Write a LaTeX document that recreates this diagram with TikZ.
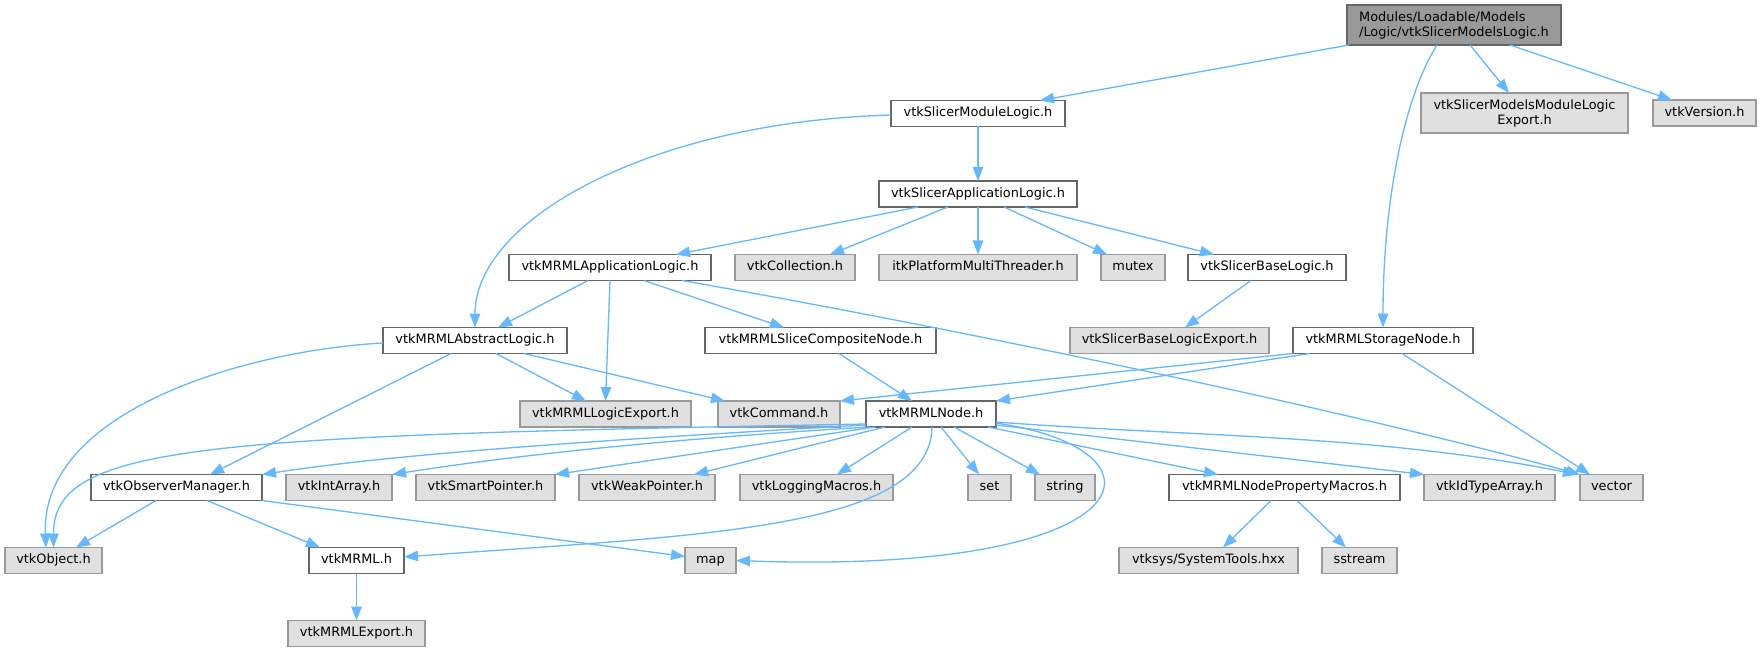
\documentclass[tikz,border=0pt]{standalone}
\usepackage{fontspec}
\setmainfont{DejaVu Sans}
\usetikzlibrary{arrows.meta}
\definecolor{edgec}{HTML}{63B8FF}
\definecolor{bdark}{HTML}{666666}
\definecolor{bgray}{HTML}{999999}
\definecolor{fgray}{HTML}{E0E0E0}
\begin{document}
\begin{tikzpicture}[x=1pt,y=-1pt,
  base/.style={draw, line width=1.2pt, inner sep=0pt, outer sep=0pt,
    font=\fontsize{12.9}{15}\selectfont, text=black},
  sl/.style={text height=9.5pt, text depth=3.1pt},
  wbox/.style={base, sl, fill=white, draw=bdark},
  gbox/.style={base, sl, fill=fgray, draw=bgray},
  topbox/.style={base, fill=bgray, draw=bdark, align=left},
  g2box/.style={base, fill=fgray, draw=bgray, align=center},
  sz/.style 2 args={minimum width=#1pt, minimum height=#2pt},
  edge/.style={draw=edgec, line width=1.3pt,
    -{Triangle[length=14pt,width=10.5pt,fill=edgec]}}
]
\fill[white] (0,0) rectangle (1761,652);
\useasboundingbox (0,0) rectangle (1761,652);

% row 0
\node[topbox, sz={214}{40}] (top) at (1454,25) {Modules/Loadable/Models\\/Logic/vtkSlicerModelsLogic.h};
% row 1
\node[g2box, sz={207}{40}] (export) at (1524.5,113) {vtkSlicerModelsModuleLogic\\Export.h};
\node[gbox, sz={103}{26}] (version) at (1704.5,113) {vtkVersion.h};
\node[wbox, sz={174}{26}] (moduleLogic) at (978,113.5) {vtkSlicerModuleLogic.h};
% row 2
\node[wbox, sz={198}{26}] (appLogic) at (978,194) {vtkSlicerApplicationLogic.h};
% row 3
\node[wbox, sz={202}{26}] (mrmlAppLogic) at (610,267.5) {vtkMRMLApplicationLogic.h};
\node[gbox, sz={120}{26}] (collection) at (795,267.5) {vtkCollection.h};
\node[gbox, sz={198}{26}] (itk) at (978,267.5) {itkPlatformMultiThreader.h};
\node[gbox, sz={64}{26}] (mutex) at (1133,267.5) {mutex};
\node[wbox, sz={158}{26}] (baseLogic) at (1267,267.5) {vtkSlicerBaseLogic.h};
% row 4
\node[wbox, sz={184}{26}] (abstractLogic) at (475,340.5) {vtkMRMLAbstractLogic.h};
\node[wbox, sz={231}{26}] (sliceComposite) at (820.5,340.5) {vtkMRMLSliceCompositeNode.h};
\node[gbox, sz={199}{26}] (baseLogicExport) at (1169.5,340.5) {vtkSlicerBaseLogicExport.h};
\node[wbox, sz={180}{26}] (storage) at (1383,340.5) {vtkMRMLStorageNode.h};
% row 5
\node[gbox, sz={171}{26}] (logicExport) at (605.5,414) {vtkMRMLLogicExport.h};
\node[gbox, sz={122}{26}] (command) at (779,414) {vtkCommand.h};
\node[wbox, sz={130}{26}] (mrmlNode) at (931,414) {vtkMRMLNode.h};
% row 6
\node[wbox, sz={171}{26}] (observer) at (176.5,487.5) {vtkObserverManager.h};
\node[gbox, sz={106}{26}] (intArray) at (339,487.5) {vtkIntArray.h};
\node[gbox, sz={139}{26}] (smartPointer) at (485.5,487.5) {vtkSmartPointer.h};
\node[gbox, sz={136}{26}] (weakPointer) at (647,487.5) {vtkWeakPointer.h};
\node[gbox, sz={153}{26}] (logging) at (816.5,487.5) {vtkLoggingMacros.h};
\node[gbox, sz={43}{26}] (set) at (989.5,487.5) {set};
\node[gbox, sz={60}{26}] (string) at (1065,487.5) {string};
\node[wbox, sz={231}{26}] (propMacros) at (1284.5,487.5) {vtkMRMLNodePropertyMacros.h};
\node[gbox, sz={131}{26}] (idType) at (1489.5,487.5) {vtkIdTypeArray.h};
\node[gbox, sz={63}{26}] (vector) at (1611.5,487.5) {vector};
% row 7
\node[gbox, sz={97}{26}] (object) at (53.5,560.5) {vtkObject.h};
\node[wbox, sz={95}{26}] (mrml) at (356.5,560.5) {vtkMRML.h};
\node[gbox, sz={51}{26}] (map) at (710.5,560.5) {map};
\node[gbox, sz={179}{26}] (systools) at (1208.5,560.5) {vtksys/SystemTools.hxx};
\node[gbox, sz={75}{26}] (sstream) at (1359.5,560.5) {sstream};
% row 8
\node[gbox, sz={137}{26}] (mrmlExport) at (356.5,633.5) {vtkMRMLExport.h};

% edges from top
\draw[edge] ([xshift=-105pt]top.south) -- ([xshift=62pt]moduleLogic.north);
\draw[edge] ([xshift=-17pt]top.south) .. controls +(-32,50) and +(0,-128) .. (storage.north);
\draw[edge] ([xshift=16pt]top.south) -- ([xshift=-15.5pt]export.north);
\draw[edge] ([xshift=56pt]top.south) -- ([xshift=-32.5pt]version.north);
% moduleLogic
\draw[edge] (moduleLogic.south) -- (appLogic.north);
\draw[edge] ([yshift=-1.5pt]moduleLogic.west) .. controls +(-241,7) and +(0,-108) .. (abstractLogic.north);
% appLogic
\draw[edge] ([xshift=-60pt]appLogic.south) -- ([xshift=66pt]mrmlAppLogic.north);
\draw[edge] ([xshift=-30pt]appLogic.south) -- ([xshift=35pt]collection.north);
\draw[edge] (appLogic.south) -- (itk.north);
\draw[edge] ([xshift=26pt]appLogic.south) -- ([xshift=-26pt]mutex.north);
\draw[edge] ([xshift=47pt]appLogic.south) -- ([xshift=-53pt]baseLogic.north);
% baseLogic
\draw[edge] ([xshift=-16pt]baseLogic.south) -- ([xshift=15.5pt]baseLogicExport.north);
% mrmlAppLogic
\draw[edge] ([xshift=-22pt]mrmlAppLogic.south) -- ([xshift=23pt]abstractLogic.north);
\draw[edge] (mrmlAppLogic.south) -- (logicExport.north);
\draw[edge] ([xshift=34pt]mrmlAppLogic.south) -- ([xshift=-36.5pt]sliceComposite.north);
\draw[edge] ([xshift=72pt]mrmlAppLogic.south) .. controls +(218,38) and +(-274,-75) .. (vector.north west);
% abstractLogic
\draw[edge] ([yshift=-2.5pt]abstractLogic.west) .. controls +(-133,7) and +(-6,-138) .. ([xshift=-7.5pt]object.north);
\draw[edge] ([xshift=-24pt]abstractLogic.south) -- ([xshift=33.5pt]observer.north);
\draw[edge] ([xshift=21pt]abstractLogic.south) -- ([xshift=-19.5pt]logicExport.north);
\draw[edge] ([xshift=49pt]abstractLogic.south) -- ([xshift=-54pt]command.north);
% sliceComposite
\draw[edge] ([xshift=18.5pt]sliceComposite.south) -- ([xshift=-19pt]mrmlNode.north);
% storage
\draw[edge] (storage.south west) -- (command.north east);
\draw[edge] ([xshift=-73pt]storage.south) -- (mrmlNode.north east);
\draw[edge] ([xshift=19pt]storage.south) -- ([xshift=-21.5pt]vector.north);
% mrmlNode
\draw[edge] ([yshift=-10pt]mrmlNode.west) .. controls +(-666,12) and +(0,-103) .. (object.north);
\draw[edge] ([yshift=-11pt]mrmlNode.west) .. controls +(-266,15) and +(138,-21) .. (observer.north east);
\draw[edge] ([xshift=-61pt]mrmlNode.south) .. controls +(-220,13) and +(108,-17) .. (intArray.north east);
\draw[edge] ([xshift=-56pt]mrmlNode.south) -- (smartPointer.north east);
\draw[edge] ([xshift=-46pt]mrmlNode.south) -- ([xshift=47pt]weakPointer.north);
\draw[edge] ([xshift=-19pt]mrmlNode.south) -- ([xshift=20.5pt]logging.north);
\draw[edge] ([xshift=1pt]mrmlNode.south) .. controls +(-2,103) and +(296,-22) .. ([yshift=3.5pt]mrml.east);
\draw[edge] ([xshift=10pt]mrmlNode.south) -- ([xshift=-10.5pt]set.north);
\draw[edge] ([xshift=23pt]mrmlNode.south) -- ([xshift=-25pt]string.north);
\draw[edge] ([yshift=-9pt]mrmlNode.east) .. controls +(184,27) and +(414,14.5) .. (map.east);
\draw[edge] ([xshift=57pt]mrmlNode.south) -- ([xshift=-66.5pt]propMacros.north);
\draw[edge] ([yshift=-11pt]mrmlNode.east) -- (idType.north west);
\draw[edge] ([yshift=-8pt]mrmlNode.east) .. controls +(200,15) and +(-200,-40) .. ([xshift=-3pt]vector.north west);
% observer
\draw[edge] ([xshift=-20.5pt]observer.south) -- ([xshift=22.5pt]object.north);
\draw[edge] ([xshift=30.5pt]observer.south) -- ([xshift=-36.5pt]mrml.north);
\draw[edge] (observer.south east) -- ([yshift=4pt]map.west);
% mrml
\draw[edge] (mrml.south) -- (mrmlExport.north);
% propMacros
\draw[edge] ([xshift=-13.5pt]propMacros.south) -- ([xshift=14.5pt]systools.north);
\draw[edge] ([xshift=12.5pt]propMacros.south) -- ([xshift=-13.5pt]sstream.north);
\end{tikzpicture}
\end{document}
